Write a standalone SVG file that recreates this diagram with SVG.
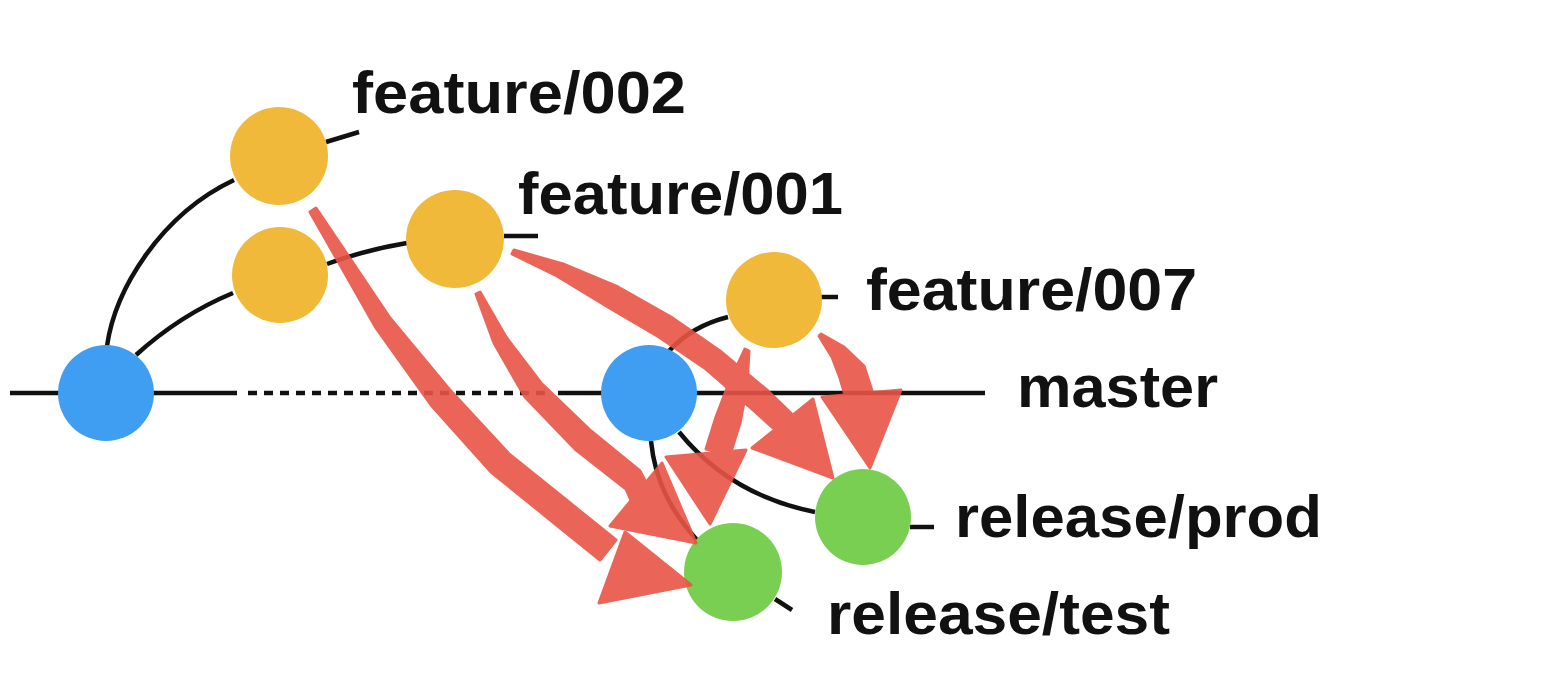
<svg xmlns="http://www.w3.org/2000/svg" width="1552" height="678" viewBox="0 0 1552 678">
<defs>
<style>
.ln{fill:none;stroke:#111;stroke-width:4.5;stroke-linecap:butt}
.dash{stroke-dasharray:9 7}
.blue{fill:#3f9ef1}
.yel{fill:#f1b93a}
.grn{fill:#79cf51}
.lbl{font-family:"Liberation Sans",Arial,sans-serif;font-weight:bold;font-size:60px;fill:#111}
.red{fill:#e85446;stroke:#e85446;stroke-width:3;stroke-linejoin:round}
</style>
</defs>
<rect width="1552" height="678" fill="#ffffff"/>
<g id="connectors">
<line class="ln" x1="10" y1="393" x2="237" y2="393"/>
<line class="ln dash" x1="248" y1="393" x2="546" y2="393"/>
<line class="ln" x1="558" y1="393" x2="985" y2="393"/>
<path class="ln" d="M107,346 C115,290 160,215 234,180"/>
<path class="ln" d="M136,355 Q180,315 233,293"/>
<path class="ln" d="M327,264 Q365,250 407,243"/>
<line class="ln" x1="504" y1="236" x2="538" y2="236"/>
<line class="ln" x1="326" y1="142" x2="359" y2="132"/>
<path class="ln" d="M669,351 Q692,326 728,317"/>
<line class="ln" x1="821" y1="297" x2="838" y2="297"/>
<path class="ln" d="M651,441 C655,480 670,510 697,540"/>
<path class="ln" d="M679,432 Q730,495 815,512"/>
<line class="ln" x1="910" y1="527" x2="934" y2="527"/>
<line class="ln" x1="775" y1="599" x2="792" y2="610"/>
</g>
<g id="node-master-1"><circle class="blue" cx="106" cy="393" r="48"/></g>
<g id="node-master-2"><circle class="blue" cx="649" cy="393" r="48"/></g>
<g id="node-feature-002"><circle class="yel" cx="279" cy="156" r="49"/></g>
<g id="node-feature-001-a"><circle class="yel" cx="280" cy="275" r="48"/></g>
<g id="node-feature-001-b"><circle class="yel" cx="455" cy="239" r="49"/></g>
<g id="node-feature-007"><circle class="yel" cx="774" cy="300" r="48"/></g>
<g id="node-release-prod"><circle class="grn" cx="863" cy="517" r="48"/></g>
<g id="node-release-test"><circle class="grn" cx="733" cy="572" r="49"/></g>
<g id="merge-arrows" opacity="0.9">
<path class="red" d="M316,208 L390,318 L449,389 L509,454 L575,507 L616,540 L600,560 L559,527 L491,472 L431,405 L376,328 L310,212 Z"/>
<polygon class="red" points="599,603 625,532 691,585"/>
<path class="red" d="M480,292 L506,337 L541,383 L591,431 L640,471 L653,496 L637,514 L626,489 L575,449 L525,397 L494,343 L476,294 Z"/>
<polygon class="red" points="610,526 662,463 696,543"/>
<path class="red" d="M514,250 L563,264 L618,287 L671,317 L720,351 L768,391 L798,420 L782,436 L752,409 L706,369 L659,337 L608,307 L557,276 L512,254 Z"/>
<polygon class="red" points="752,448 813,399 833,478"/>
<path class="red" d="M749,351 L747,387 L740,423 L730,455 L706,449 L716,417 L729,383 L745,349 Z"/>
<polygon class="red" points="666,457 746,450 710,524"/>
<path class="red" d="M821,334 L844,347 L864,366 L873,394 L847,402 L840,378 L832,357 L819,336 Z"/>
<polygon class="red" points="822,397 901,390 870,468"/>
</g>
<g id="labels">
<text class="lbl" x="352" y="113" textLength="334" lengthAdjust="spacingAndGlyphs">feature/002</text>
<text class="lbl" x="518" y="214" textLength="325" lengthAdjust="spacingAndGlyphs">feature/001</text>
<text class="lbl" x="866" y="310" textLength="331" lengthAdjust="spacingAndGlyphs">feature/007</text>
<text class="lbl" x="1017" y="407" textLength="201" lengthAdjust="spacingAndGlyphs">master</text>
<text class="lbl" x="955" y="537" textLength="367" lengthAdjust="spacingAndGlyphs">release/prod</text>
<text class="lbl" x="827" y="634" textLength="343" lengthAdjust="spacingAndGlyphs">release/test</text>
</g>
</svg>
